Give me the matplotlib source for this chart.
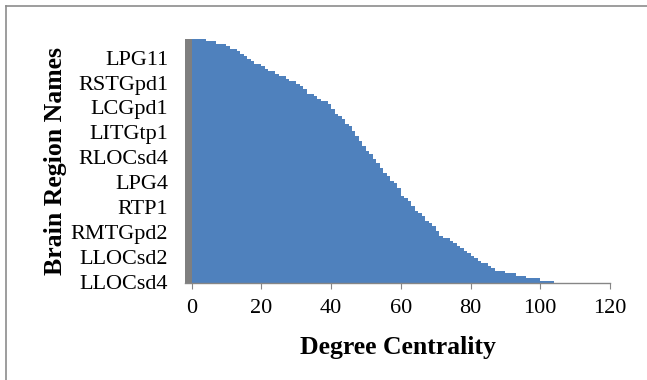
import matplotlib
matplotlib.use("Agg")
import matplotlib.pyplot as plt
from matplotlib.lines import Line2D

# degree centrality per region, listed from the top bar to the bottom bar
degree = [4, 7, 10, 11, 13, 14, 15, 16, 17, 18,
          20, 21, 22, 24, 25, 27, 28, 30, 31, 32,
          33, 33, 35, 36, 37, 39, 40, 40, 41, 41,
          42, 43, 44, 44, 45, 46, 46, 47, 47, 48,
          48, 49, 49, 50, 50, 51, 52, 52, 53, 53,
          54, 54, 55, 55, 56, 57, 57, 58, 59, 59,
          60, 60, 60, 61, 62, 63, 63, 64, 64, 65,
          66, 67, 67, 68, 69, 70, 70, 71, 71, 72,
          74, 75, 76, 77, 78, 79, 80, 81, 82, 83,
          85, 86, 87, 90, 93, 96, 100, 104]

# only every tenth region name is printed on the axis (top to bottom)
shown_names = ["LPG11", "RSTGpd1", "LCGpd1", "LITGtp1", "RLOCsd4",
               "LPG4", "RTP1", "RMTGpd2", "LLOCsd2", "LLOCsd4"]
label_every = 10

x_ticks = [0, 20, 40, 60, 80, 100, 120]

n = len(degree)
rows = list(range(n))
plt.rcParams['font.family'] = ['Liberation Serif', 'DejaVu Serif']

fig = plt.figure(figsize=(6.47, 3.8), dpi=100)
ax = fig.add_axes([185 / 647, 1 - 283 / 380, 425 / 647, 244 / 380])

ax.barh(rows, degree, height=1.0, color='#4f81bd', linewidth=0)
ax.set_ylim(n - 0.5, -0.5)
ax.set_xlim(-1.9, 120)
ax.axvspan(-1.9, 0, color='#7f7f7f', linewidth=0)

tick_rows = [n - 1 - label_every * k for k in range(len(shown_names))][::-1]
ax.set_yticks(tick_rows)
ax.set_yticklabels(shown_names, fontsize=16)
ax.tick_params(axis='y', length=0, pad=12)

ax.set_xticks(x_ticks)
ax.set_xticklabels([str(t) for t in x_ticks], fontsize=16)
ax.tick_params(axis='x', direction='out', length=4.5, color='#868686', pad=7)

for side in ['top', 'right', 'left']:
    ax.spines[side].set_visible(False)
ax.spines['bottom'].set_color('#868686')
ax.spines['bottom'].set_linewidth(1.0)

ax.set_xlabel("Degree Centrality", fontsize=18.5, fontweight='bold', labelpad=13)
ax.set_ylabel("Brain Region Names", fontsize=18.5, fontweight='bold', labelpad=3)

# chart area border (only top and left edges visible)
fig.add_artist(Line2D([5.5 / 647, 5.5 / 647], [0, 1 - 5.5 / 380],
                      transform=fig.transFigure, color='#8c8c8c', linewidth=1.2))
fig.add_artist(Line2D([5.5 / 647, 1], [1 - 5.5 / 380, 1 - 5.5 / 380],
                      transform=fig.transFigure, color='#8c8c8c', linewidth=1.2))

fig.savefig("out.png", dpi=100)
